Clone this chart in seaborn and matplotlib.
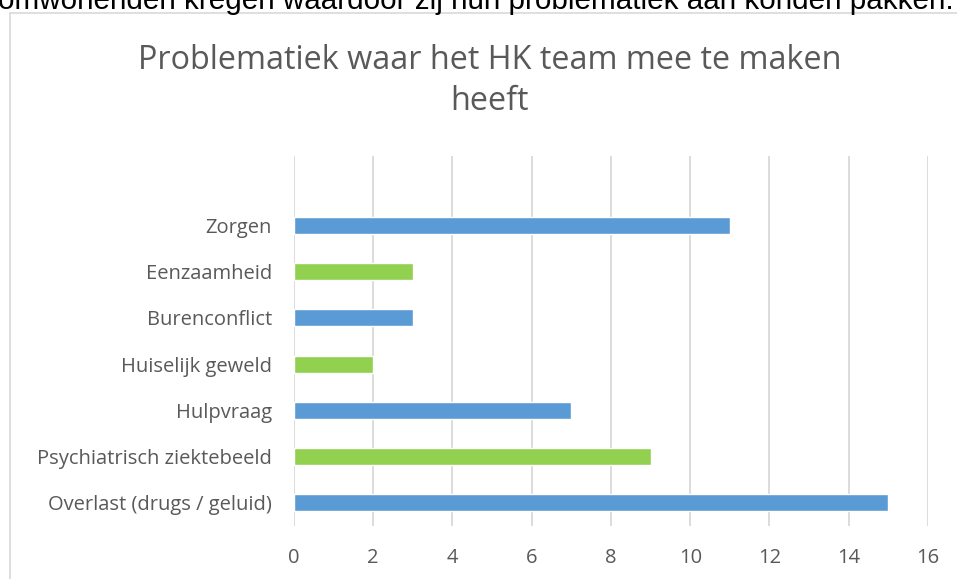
import matplotlib
matplotlib.use("Agg")
import matplotlib.pyplot as plt
import seaborn as sns
import pandas as pd
from matplotlib.lines import Line2D

# data (top to bottom)
categories = ["Zorgen", "Eenzaamheid", "Burenconflict", "Huiselijk geweld",
              "Hulpvraag", "Psychiatrisch ziektebeeld", "Overlast (drugs / geluid)"]
counts = [11, 3, 3, 2, 7, 9, 15]
bar_colors = ["#5B9BD5", "#92D050", "#5B9BD5", "#92D050", "#5B9BD5", "#92D050", "#5B9BD5"]
x_ticks = [0, 2, 4, 6, 8, 10, 12, 14, 16]

df = pd.DataFrame({"categorie": categories, "aantal": counts})

sns.set_style("white")
plt.rcParams["font.family"] = ["Open Sans", "DejaVu Sans"]

fig = plt.figure(figsize=(9.57, 5.79), dpi=100)
ax = fig.add_axes([0.3072, 0.0915, 0.6625, 0.639])

sns.barplot(data=df, x="aantal", y="categorie", hue="categorie",
            palette=bar_colors, legend=False, width=0.37, saturation=1, ax=ax)

ax.set_xlim(0, 16)
ax.set_ylim(6.5, -1.5)
ax.set_xticks(x_ticks)
ax.set_xlabel("")
ax.set_ylabel("")
ax.grid(axis="x", color="#D9D9D9", linewidth=1.3)
ax.set_axisbelow(True)
for s in ax.spines.values():
    s.set_visible(False)
ax.tick_params(axis="both", length=0, labelsize=14.5, labelcolor="#595959")
ax.tick_params(axis="x", pad=16)
ax.tick_params(axis="y", pad=16)

fig.text(0.512, 1 - 81 / 579, "Problematiek waar het HK team mee te maken\nheeft",
         ha="center", va="center", fontsize=23.3, color="#595959", linespacing=1.32)

# chart frame (runs off the page to the right and bottom)
fig.add_artist(Line2D([9.5 / 957, 9.5 / 957], [1 - 12.5 / 579, 0],
                      transform=fig.transFigure, color="#D9D9D9", linewidth=1.2))
fig.add_artist(Line2D([9.5 / 957, 1], [1 - 12.5 / 579, 1 - 12.5 / 579],
                      transform=fig.transFigure, color="#D9D9D9", linewidth=1.2))

# bit of document text above the chart, cut off at the top
fig.text(-0.002, 1 - 9 / 579, "omwonenden kregen waardoor zij hun problematiek aan konden pakken.",
         ha="left", va="baseline", fontsize=21.3, color="black",
         family=["Liberation Sans", "DejaVu Sans"])

fig.savefig("out.png", dpi=100)
